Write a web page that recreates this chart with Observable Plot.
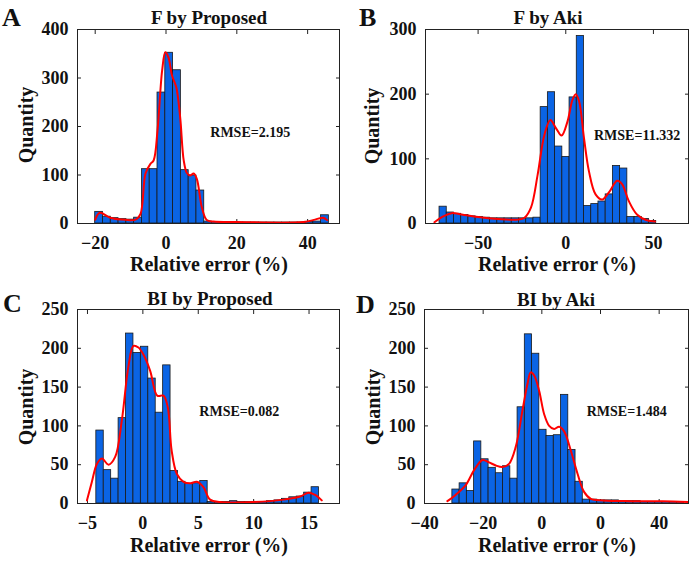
<!DOCTYPE html>
<html><head><meta charset="utf-8">
<script src="https://cdn.jsdelivr.net/npm/d3@7"></script>
<script src="https://cdn.jsdelivr.net/npm/@observablehq/plot@0.6"></script>
<style>
body{margin:0;background:#fff;}
#wrap{position:relative;width:692px;height:561px;overflow:hidden;}
#wrap svg{position:absolute;}
</style></head><body><div id="wrap"></div>
<script>
// ---------- data ----------
const titles = ["F by Proposed", "F by Aki", "BI by Proposed", "BI by Aki"];
const letters = ["A", "B", "C", "D"];
const xLabel = "Relative error (%)";
const yLabel = "Quantity";
const rmseTexts = ["RMSE=2.195", "RMSE=11.332", "RMSE=0.082", "RMSE=1.484"];

// histogram bins: first edge, width, counts
const binStartA = -20, binWidthA = 2.2;
const countsA = [24,14,11,9,8,12,112,112,270,352,316,110,99,68,4,3,2,2,2,2,2,2,2,2,2,2,2,3,4,17];
const binStartB = -72, binWidthB = 4.12;
const countsB = [26,17,15,13,11,10,9,8,8,8,8,8,8,9,180,203,119,103,195,290,27,30,34,45,89,85,10,10,7,4];
const binStartC = -4.2, binWidthC = 0.67;
const countsC = [94,43,32,110,219,194,202,161,117,178,42,28,25,26,29,2,2,2,3,2,2,2,2,3,4,6,8,9,14,21];
const binStartD = -30.5, binWidthD = 2.47;
const countsD = [18,26,16,80,57,46,39,48,32,124,218,193,95,87,88,140,69,28,5,5,4,4,4,3,3,3,2,2,2,2,2,2];

// fitted density curves
const curveAx = [-20,-18.7,-15.7,-11.5,-8.6,-7.2,-5.8,-4.4,-3.5,-2.4,-1.1,-0.2,0.7,1.7,2.9,4.0,5.0,5.9,6.8,7.8,8.7,10.1,11.5,13.4,20,38.8,42.1,44.4,45.5];
const curveAy = [8,22,12,7.5,8,20,103,123,130,192,315,353,342,305,281,219,130,104,99,103,92,34,7,4,3,3,8,12,7];
const curveBx = [-74.9,-70.7,-65.1,-59.4,-50,-38.7,-27.3,-23.5,-19.8,-16,-12.2,-8.8,-5.7,-2.4,1,3.8,5.7,7.6,10.4,13.2,17,20.8,24.6,29.3,32.1,35.9,40.6,46.2,50.9];
const curveBy = [2,10,16,14,10,7,6,9,25,76,137,160,148,136,158,191,200,189,132,81,45,37,48,66,61,35,14,5,3];
const curveCx = [-5.05,-4.6,-4.15,-3.7,-3.1,-2.5,-1.9,-1.3,-0.85,-0.4,0.05,0.66,1.3,1.86,2.25,2.6,3.07,3.67,4.27,4.87,5.47,6.07,6.98,9.98,12.7,14.2,14.95,15.55,16.15];
const curveCy = [4,28,51,58,50,60,107,177,203,201,192,171,139,139,124,68,38,28,26,28,21,5,2,2,5,9,14,11,4];
const curveDx = [-32.2,-29.4,-25.9,-23.1,-20.2,-18,-15.7,-13.4,-11.2,-8.9,-6.6,-4.9,-3.8,-2.6,-0.9,0.8,2.5,4.2,5.9,7.6,9.9,12.2,14.4,16.7,20.7,29.8,41.2,49.7];
const curveDy = [3,11,24,43,56,53,49,47,51,73,120,154,169,165,145,115,100,96,99,93,68,38,15,6,4,3,3,2];

// axes
const xDomains = [[-25,49],[-80,70],[-5.9,17.75],[-40,50]];
const yDomains = [[0,400],[0,300],[0,250],[0,250]];
const xTicksA = [-20,0,20,40], xTickLabelsA = ["−20","0","20","40"];
const xTicksB = [-50,0,50], xTickLabelsB = ["−50","0","50"];
const xTicksC = [-5,0,5,10,15], xTickLabelsC = ["−5","0","5","10","15"];
const xTicksD = [-40,-20,0,20,40], xTickLabelsD = ["−40","−20","0","0","40"];
const yTicksA = [0,100,200,300,400];
const yTicksB = [0,100,200,300];
const yTicksCD = [0,50,100,150,200,250];
const rmseX = [12.5, 16.1, 5.1, 15.3];
const rmseY = [187, 136, 118, 118];

// ---------- build ----------
const bars = (start, width, counts) => counts.map((c, i) => ({x1: start + i*width, x2: start + (i+1)*width, count: c}));
const pts = (xs, ys) => xs.map((x, i) => ({x, y: ys[i]}));

const panels = [
  {bars: bars(binStartA, binWidthA, countsA), curve: pts(curveAx, curveAy), xt: xTicksA, xl: xTickLabelsA, yt: yTicksA,
   left: 0, top: 0, w: 346, h: 280, mL: 77, mR: 7, mT: 29, mB: 57},
  {bars: bars(binStartB, binWidthB, countsB), curve: pts(curveBx, curveBy), xt: xTicksB, xl: xTickLabelsB, yt: yTicksB,
   left: 346, top: 0, w: 346, h: 280, mL: 79, mR: 4, mT: 29, mB: 57},
  {bars: bars(binStartC, binWidthC, countsC), curve: pts(curveCx, curveCy), xt: xTicksC, xl: xTickLabelsC, yt: yTicksCD,
   left: 0, top: 280, w: 346, h: 281, mL: 77, mR: 7, mT: 29, mB: 58},
  {bars: bars(binStartD, binWidthD, countsD), curve: pts(curveDx, curveDy), xt: xTicksD, xl: xTickLabelsD, yt: yTicksCD,
   left: 346, top: 280, w: 346, h: 281, mL: 78, mR: 4, mT: 29, mB: 58}
];

const wrap = document.getElementById("wrap");
const FONT = "'Liberation Serif','Times New Roman',serif";

panels.forEach((p, k) => {
  const labelMap = new Map(p.xt.map((t, i) => [t, p.xl[i]]));
  const chart = Plot.plot({
    width: p.w, height: p.h,
    marginLeft: p.mL, marginRight: p.mR, marginTop: p.mT, marginBottom: p.mB,
    x: {domain: xDomains[k]},
    y: {domain: yDomains[k]},
    style: {fontFamily: FONT, fontWeight: "bold", fontSize: "18px", color: "#111", background: "transparent", overflow: "visible"},
    marks: [
      Plot.axisX(p.xt, {anchor: "bottom", tickSize: 4, dy: -4, tickPadding: 13, tickFormat: d => labelMap.get(d), label: null, stroke: "#222"}),
      Plot.axisX(p.xt, {anchor: "top", tickSize: 4, dy: 4, tickFormat: () => "", label: null, stroke: "#222"}),
      Plot.axisY(p.yt, {anchor: "left", tickSize: 4, dx: 4, tickPadding: 9, label: null, stroke: "#222"}),
      Plot.axisY(p.yt, {anchor: "right", tickSize: 4, dx: -4, tickFormat: () => "", label: null, stroke: "#222"}),
      Plot.rectY(p.bars, {x1: "x1", x2: "x2", y: "count", fill: "#0b64e4", stroke: "#1a1a1a", strokeWidth: 0.8, clip: true}),
      Plot.line(p.curve, {x: "x", y: "y", stroke: "#ff0000", strokeWidth: 2, curve: "catmull-rom", clip: true}),
      Plot.text([rmseTexts[k]], {x: () => rmseX[k], y: () => rmseY[k], text: d => d, textAnchor: "start", fontSize: 14, fontWeight: "bold", fill: "#111"}),
      Plot.frame({stroke: "#222", strokeWidth: 1})
    ]
  });
  chart.style.left = p.left + "px";
  chart.style.top = p.top + "px";
  wrap.appendChild(chart);
});

// overlay text: panel letters, titles, axis labels
const ov = d3.select(wrap).append("svg")
  .attr("width", 692).attr("height", 561)
  .style("left", "0px").style("top", "0px").style("pointer-events", "none")
  .attr("font-family", FONT).attr("font-weight", "bold").attr("fill", "#111");

const letterPos = [[2, 26], [359, 26], [3, 312], [356, 313]];
const titlePos = [[209, 24], [548, 24], [210, 305], [556, 306]];
const yLabPos = [[26, 125], [372, 126], [26, 407], [373, 407]];
const xLabPos = [[209, 271], [557, 271], [209, 552], [557, 552]];

letters.forEach((L, k) => ov.append("text").attr("x", letterPos[k][0]).attr("y", letterPos[k][1]).attr("font-size", 26).text(L));
titles.forEach((t, k) => ov.append("text").attr("x", titlePos[k][0]).attr("y", titlePos[k][1]).attr("font-size", 19).attr("text-anchor", "middle").text(t));
yLabPos.forEach(([x, y]) => ov.append("text").attr("transform", `translate(${x},${y}) rotate(-90)`).attr("font-size", 20).attr("text-anchor", "middle").attr("dominant-baseline", "central").text(yLabel));
xLabPos.forEach(([x, y]) => ov.append("text").attr("x", x).attr("y", y).attr("font-size", 20).attr("text-anchor", "middle").text(xLabel));
</script>
</body></html>
